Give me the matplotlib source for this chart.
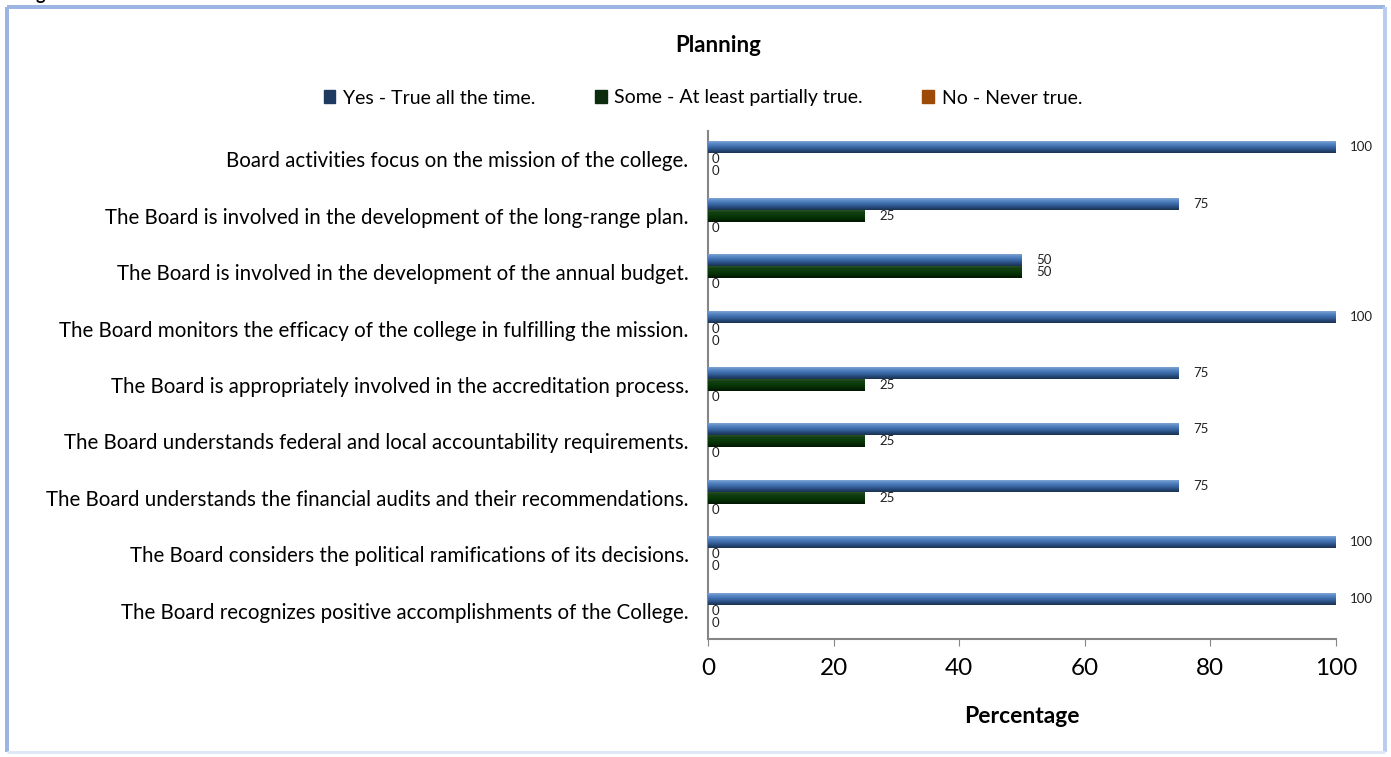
import numpy as np
import matplotlib
matplotlib.use("Agg")
import matplotlib.pyplot as plt
from matplotlib.colors import LinearSegmentedColormap
from matplotlib.patches import Rectangle
from matplotlib.lines import Line2D

plt.rcParams['font.family'] = ['Lato', 'DejaVu Sans']

categories = [
    "Board activities focus on the mission of the college.",
    "The Board is involved in the development of the long-range plan.",
    "The Board is involved in the development of the annual budget.",
    "The Board monitors the efficacy of the college in fulfilling the mission.",
    "The Board is appropriately involved in the accreditation process.",
    "The Board understands federal and local accountability requirements.",
    "The Board understands the financial audits and their recommendations.",
    "The Board considers the political ramifications of its decisions.",
    "The Board recognizes positive accomplishments of the College.",
]
yes_vals = [100, 75, 50, 100, 75, 75, 75, 100, 100]
some_vals = [0, 25, 50, 0, 25, 25, 25, 0, 0]
no_vals = [0, 0, 0, 0, 0, 0, 0, 0, 0]
series_names = ["Yes - True all the time.", "Some - At least partially true.", "No - Never true."]
x_ticks = [0, 20, 40, 60, 80, 100]

# gradient stops top -> bottom for each series
grad_colors = [
    ["#8fb0dc", "#5b8ac6", "#3f6ead", "#2a4f82", "#1a3050"],
    ["#2f5a2f", "#134013", "#0a3a0a", "#052b05", "#021602"],
    ["#c9722a", "#b0560f", "#9c4a06", "#7c3a04", "#5a2902"],
]
legend_colors = ["#1f3a60", "#0d2b0d", "#9c4a06"]

W, H = 1391, 757
fig = plt.figure(figsize=(W / 100, H / 100), dpi=100)
ax = fig.add_axes([708 / W, 1 - 639 / H, (1336 - 708) / W, (639 - 131) / H])

y = np.arange(len(categories))
h = 0.213
for i, (vals, name) in enumerate(zip([yes_vals, some_vals, no_vals], series_names)):
    bars = ax.barh(y + (i - 1) * h, vals, height=h, color=legend_colors[i], label=name, zorder=2)
    cmap = LinearSegmentedColormap.from_list("g%d" % i, grad_colors[i])
    grad = np.linspace(0, 1, 64).reshape(-1, 1)
    for bar, v in zip(bars, vals):
        if v <= 0:
            continue
        x0, y0 = bar.get_x(), bar.get_y()
        w, hh = bar.get_width(), bar.get_height()
        im = ax.imshow(grad, cmap=cmap, aspect='auto', extent=(x0, x0 + w, y0 + hh, y0),
                       origin='upper', zorder=3)
        im.set_clip_path(bar)
    for bar, v in zip(bars, vals):
        off = 14 if v > 0 else 4
        ax.annotate("%d" % v, (bar.get_width(), bar.get_y() + bar.get_height() / 2),
                    xytext=(off, 0), textcoords='offset pixels', va='center', ha='left',
                    fontsize=9.5, color='#222222', zorder=4)

ax.set_xlim(0, 100)
ax.set_ylim(len(categories) - 0.5, -0.5)
ax.set_xticks(x_ticks)
ax.set_xticklabels([str(t) for t in x_ticks], fontsize=17.5)
ax.set_yticks(y)
ax.set_yticklabels(categories, fontsize=14.8)
ax.tick_params(axis='y', length=0, pad=14)
ax.tick_params(axis='x', length=5, color='#868686', pad=9, direction='out')
for s in ['top', 'right']:
    ax.spines[s].set_visible(False)
for s in ['left', 'bottom']:
    ax.spines[s].set_color('#868686')
    ax.spines[s].set_linewidth(1.5)
ax.set_xlabel("Percentage", fontsize=16.5, fontweight='bold', labelpad=19)

fig.text(718 / W, 1 - 45 / H, "Planning", ha='center', va='center', fontsize=16, fontweight='bold')
fig.text(40 / W, 1.0, "g", ha='center', va='baseline', fontsize=13, fontweight='bold')

handles = [Rectangle((0, 0), 1, 1, color=c) for c in legend_colors]
fig.legend(handles, series_names, loc='center', bbox_to_anchor=(703 / W, 1 - 98 / H),
           ncol=3, frameon=False, fontsize=14, handlelength=0.6, handleheight=0.6,
           handletextpad=0.4, columnspacing=3.05)

# outer frame: stronger on top/left, fading on right/bottom
fx0, fx1, fy0, fy1 = 7 / W, 1385 / W, 1 - 7 / H, 1 - 752 / H
frame_sides = [
    ([fx0, fx1], [fy0, fy0], '#9bb6e2', 4),
    ([fx0, fx0], [fy0, fy1], '#9bb6e2', 4),
    ([fx1, fx1], [fy0, fy1], '#b9cdee', 4),
    ([fx0, fx1], [fy1, fy1], '#dfe8f6', 3),
]
for xs, ys, c, lw in frame_sides:
    fig.add_artist(Line2D(xs, ys, transform=fig.transFigure, color=c, lw=lw * 0.72,
                          solid_capstyle='butt', zorder=0))

fig.savefig("out.png", dpi=100)
